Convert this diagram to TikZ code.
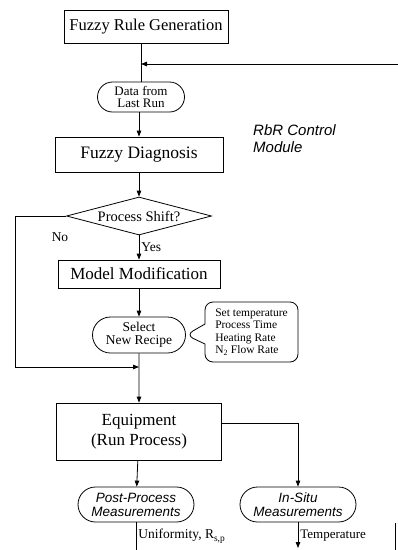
\documentclass[tikz,border=0pt]{standalone}
\usepackage{fontspec}
\setmainfont{Liberation Serif}
\setsansfont{Liberation Sans}
\usetikzlibrary{shapes.geometric,shapes.misc,shapes.callouts,arrows.meta,positioning}
\tikzset{
  stepbox/.style={rectangle,draw,line width=0.8pt,inner sep=1pt,align=center,font=\fontsize{16.5}{18}\selectfont},
  pill/.style={rounded rectangle,draw,line width=0.8pt,inner sep=1pt,align=center,font=\fontsize{13}{12.5}\selectfont},
  measure/.style={pill,font=\sffamily\itshape\fontsize{13.5}{14}\selectfont},
  decision/.style={diamond,draw,line width=0.8pt,inner sep=0pt,aspect=3.8,font=\fontsize{14.5}{16}\selectfont},
  note/.style={rectangle callout,draw,line width=0.8pt,rounded corners=8pt,align=left,inner sep=2pt,callout pointer width=20pt,font=\fontsize{11.5}{12.5}\selectfont},
  arrow/.style={-{Triangle[length=6pt,width=4.5pt]},line width=0.8pt},
  link/.style={line width=0.8pt},
  lbl/.style={inner sep=2pt,font=\fontsize{13.5}{15}\selectfont},
}
\begin{document}
\begin{tikzpicture}[x=1pt,y=-1pt]
  \fill[white] (0,0) rectangle (398,550);
  \useasboundingbox (0,0) rectangle (398,550);
  % -- main chain --
  \node[stepbox, minimum width=164pt, minimum height=33pt] (rulegen) at (146,26.5) {Fuzzy Rule Generation};
  \node[pill, minimum width=89pt, minimum height=30pt] (lastrun) at (141,97) {Data from\\Last Run};
  \node[stepbox, minimum width=168pt, minimum height=35pt, font=\fontsize{17.5}{19}\selectfont] (diagnosis) at (139,154.5) {Fuzzy Diagnosis};
  \node[decision, minimum width=145pt, minimum height=38pt] (shift) at (139,216) {Process Shift?};
  \node[stepbox, minimum width=162pt, minimum height=28pt, font=\fontsize{17}{19}\selectfont] (modify) at (139,274) {Model Modification};
  \node[pill, minimum width=95pt, minimum height=36pt, font=\fontsize{13.5}{13}\selectfont] (recipe) at (139,335) {Select\\New Recipe};
  \node[note, minimum width=93pt, minimum height=60pt, callout absolute pointer={(recipe.east)}] (settings) at (251.5,332)
    {Set temperature\\Process Time\\Heating Rate\\N\textsubscript{2} Flow Rate};
  \node[stepbox, minimum width=165pt, minimum height=57pt, font=\fontsize{17}{20}\selectfont] (equip) at (139,431.5) {Equipment\\(Run Process)};
  \node[measure, minimum width=118pt, minimum height=35pt] (post) at (136,504.5) {Post-Process\\Measurements};
  \node[measure, minimum width=118pt, minimum height=35pt] (insitu) at (298,504.5) {In-Situ\\Measurements};
  \node[anchor=north west, inner sep=0pt, align=left, font=\sffamily\itshape\fontsize{15}{17}\selectfont] (module) at (253,124) {RbR Control\\Module};
  \node[lbl] (no) at (60,237) {No};

  % -- loose ends --
  \coordinate (feedin) at (398,64);
  \coordinate (leftrail) at (15,216);
  \coordinate (postout) at (136,550);
  \coordinate (insituout) at (298,548);
  \coordinate (railtop) at (395,523);
  \coordinate (railbot) at (395,550);

  % -- arrows --
  \draw[link] (rulegen.south -| lastrun.north) -- (lastrun.north);
  \draw[arrow] (feedin) -- (feedin -| lastrun.north);
  \draw[arrow] (lastrun.south -| diagnosis.north) -- (diagnosis.north);
  \draw[arrow] (diagnosis) -- (shift);
  \draw[arrow] (shift) -- node[lbl, right]{Yes} (modify);
  \draw[arrow] (modify) -- (recipe);
  \draw[arrow] (recipe) -- (equip);
  \draw[arrow] (shift.west) -- (leftrail) |- (equip.north |- 0,367);
  \draw[arrow] ([yshift=8pt]equip.east) -| (insitu.north);
  \draw[arrow] (equip) -- (post);
  \draw[link] (post.south) -- node[lbl, right]{Uniformity, R\textsubscript{s,p}} (postout);
  \draw[arrow] (insitu.south) -- node[lbl, right, font=\fontsize{13}{15}\selectfont]{Temperature} (insituout);
  \draw[link] (railtop) -- (railbot);
\end{tikzpicture}
\end{document}
